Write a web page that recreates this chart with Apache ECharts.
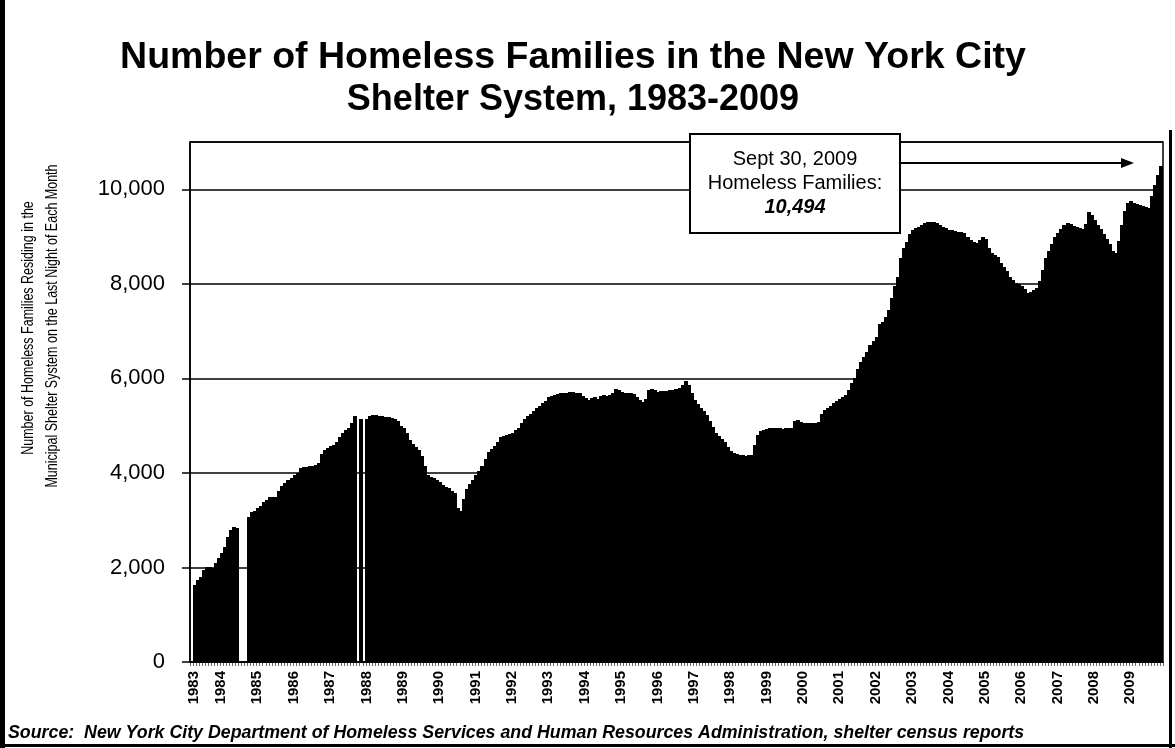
<!DOCTYPE html>
<html>
<head>
<meta charset="utf-8">
<script src="https://cdn.jsdelivr.net/npm/echarts@6/dist/echarts.min.js"></script>
<style>
  html, body { margin: 0; padding: 0; background: #ffffff; }
  #chart { width: 1175px; height: 748px; }
</style>
</head>
<body>
<div id="chart"></div>
<script>
// Homeless families in the NYC shelter system, last night of each month.
// null = month with no census figure.
const families1983 = [null, 1630, 1730, 1800, 1950, 2010, 2010, 1990, 2090, 2200, 2300, 2430];
const families1984 = [2640, 2790, 2850, 2830, null, null, null, 3070, 3170, 3200, 3250, 3300];
const families1985 = [3380, 3420, 3480, 3490, 3500, 3620, 3720, 3790, 3850, 3900, 3960, 4000];
const families1986 = [4100, 4120, 4130, 4140, 4150, 4170, 4210, 4400, 4480, 4520, 4560, 4600];
const families1987 = [4650, 4750, 4850, 4900, 4950, 5050, 5200, null, 5150, null, 5150, 5200];
const families1988 = [5230, 5220, 5200, 5210, 5190, 5190, 5170, 5150, 5100, 5000, 4950, 4850];
const families1989 = [4700, 4620, 4550, 4480, 4350, 4150, 3960, 3920, 3900, 3860, 3800, 3750];
const families1990 = [3700, 3680, 3620, 3580, 3250, 3200, 3450, 3650, 3760, 3850, 3950, 4050];
const families1991 = [4150, 4300, 4450, 4500, 4560, 4650, 4750, 4780, 4800, 4820, 4850, 4900];
const families1992 = [4950, 5050, 5150, 5200, 5250, 5300, 5380, 5420, 5480, 5530, 5600, 5620];
const families1993 = [5640, 5660, 5680, 5690, 5700, 5720, 5710, 5700, 5680, 5620, 5580, 5550];
const families1994 = [5580, 5600, 5570, 5620, 5640, 5620, 5650, 5700, 5780, 5760, 5720, 5700];
const families1995 = [5700, 5690, 5660, 5600, 5540, 5510, 5560, 5750, 5770, 5760, 5720, 5730];
const families1996 = [5730, 5740, 5750, 5760, 5780, 5800, 5850, 5950, 5850, 5700, 5550, 5450];
const families1997 = [5380, 5300, 5230, 5100, 4980, 4850, 4780, 4720, 4650, 4540, 4470, 4420];
const families1998 = [4400, 4370, 4380, 4360, 4380, 4370, 4600, 4800, 4880, 4900, 4920, 4960];
const families1999 = [4960, 4940, 4950, 4930, 4940, 4950, 4950, 5100, 5120, 5080, 5050, 5060];
const families2000 = [5050, 5060, 5050, 5080, 5250, 5330, 5380, 5420, 5480, 5520, 5560, 5600];
const families2001 = [5650, 5750, 5900, 6000, 6200, 6350, 6450, 6550, 6700, 6800, 6880, 7150];
const families2002 = [7200, 7290, 7450, 7700, 7950, 8150, 8550, 8750, 8880, 9050, 9130, 9180];
const families2003 = [9200, 9240, 9280, 9300, 9310, 9300, 9290, 9250, 9200, 9180, 9140, 9130];
const families2004 = [9120, 9100, 9090, 9080, 9000, 8920, 8880, 8860, 8920, 8980, 8950, 8750];
const families2005 = [8650, 8600, 8560, 8450, 8350, 8280, 8150, 8080, 8020, 8000, 7950, 7900];
const families2006 = [7800, 7820, 7870, 7920, 8050, 8300, 8550, 8700, 8850, 9000, 9080, 9150];
const families2007 = [9250, 9280, 9260, 9230, 9200, 9180, 9150, 9260, 9520, 9450, 9350, 9250];
const families2008 = [9150, 9050, 8950, 8850, 8700, 8650, 8900, 9250, 9550, 9720, 9750, 9700];
const families2009 = [9680, 9660, 9640, 9620, 9600, 9850, 10100, 10300, 10494];

const yearTickLabels = ['1983', '1984', '1985', '1986', '1987', '1988', '1989', '1990', '1991',
  '1992', '1993', '1994', '1995', '1996', '1997', '1998', '1999', '2000', '2001', '2002',
  '2003', '2004', '2005', '2006', '2007', '2008', '2009'];

const valueTicks = [0, 2000, 4000, 6000, 8000, 10000];

const titleLines = ['Number of Homeless Families in the New York City', 'Shelter System, 1983-2009'];
const axisNameLines = ['Number of Homeless Families Residing in the',
  'Municipal Shelter System on the Last Night of Each Month'];
const sourceNote = 'Source:  New York City Department of Homeless Services and Human Resources Administration, shelter census reports';

const byYear = [families1983, families1984, families1985, families1986, families1987, families1988,
  families1989, families1990, families1991, families1992, families1993, families1994, families1995,
  families1996, families1997, families1998, families1999, families2000, families2001, families2002,
  families2003, families2004, families2005, families2006, families2007, families2008, families2009];

const months = [];
const families = [];
byYear.forEach((vals, yi) => {
  vals.forEach((v, mi) => {
    months.push(yearTickLabels[yi] + '-' + String(mi + 1).padStart(2, '0'));
    families.push(v);
  });
});

const lastValue = families[families.length - 1];
const fmt = v => v.toLocaleString('en-US');

const chart = echarts.init(document.getElementById('chart'), null, { renderer: 'canvas' });

const ARIAL = '"Liberation Sans", Arial, sans-serif';

// One solid column per month, snapped to whole pixels so neighbours join seamlessly.
function renderMonthColumn(params, api) {
  const v = api.value(1);
  if (v == null || isNaN(v)) return null;
  const top = api.coord([api.value(0), v]);
  const base = api.coord([api.value(0), 0]);
  const w = api.size([1, 0])[0];
  const x0 = Math.floor(top[0] - w / 2);
  const x1 = Math.ceil(top[0] + w / 2);
  const y0 = Math.round(top[1]);
  const y1 = Math.round(base[1]);
  return {
    type: 'rect',
    shape: { x: x0, y: y0, width: x1 - x0, height: y1 - y0 },
    style: { fill: '#000', stroke: null }
  };
}

chart.setOption({
  animation: false,
  backgroundColor: '#ffffff',
  grid: {
    left: 190, right: 12, top: 142, bottom: 86,
    show: true, borderColor: '#000', borderWidth: 1.5, backgroundColor: 'transparent'
  },
  xAxis: {
    type: 'category',
    data: months,
    boundaryGap: true,
    axisLine: { show: true, lineStyle: { color: '#000', width: 1.5 } },
    axisTick: { show: true, interval: 0, length: 4, lineStyle: { color: '#000', width: 0.6 } },
    axisLabel: {
      interval: (idx) => idx % 12 === 0,
      formatter: (val, idx) => idx === 0 ? '{first|' + val.slice(0, 4) + '}' : '{yr|' + val.slice(0, 4) + '}',
      rotate: 90,
      margin: 9,
      color: '#000',
      rich: {
        first: { fontFamily: ARIAL, fontWeight: 'bold', fontSize: 15, color: '#000', padding: [4, 0, 0, 0] },
        yr: { fontFamily: ARIAL, fontWeight: 'bold', fontSize: 15, color: '#000', padding: [0, 0, 14, 0] }
      }
    },
    splitLine: { show: false }
  },
  yAxis: {
    type: 'value',
    min: 0,
    max: 11000,
    interval: 2000,
    axisLine: { show: true, lineStyle: { color: '#000', width: 1.5 } },
    axisTick: { show: true, length: 8, lineStyle: { color: '#000', width: 1.5 } },
    axisLabel: {
      showMaxLabel: false,
      margin: 25,
      color: '#000',
      fontFamily: ARIAL,
      fontSize: 22,
      formatter: v => valueTicks.includes(v) ? fmt(v) : ''
    },
    splitLine: { show: true, lineStyle: { color: '#000', width: 1.5 } }
  },
  series: [{
    type: 'custom',
    renderItem: renderMonthColumn,
    encode: { x: 0, y: 1 },
    data: families.map((v, i) => [i, v]),
    clip: true
  }],
  graphic: [
    // outer frame
    { type: 'line', z: 100, shape: { x1: 2.5, y1: 0, x2: 2.5, y2: 748 }, style: { stroke: '#000', lineWidth: 5 } },
    { type: 'line', z: 100, shape: { x1: 0, y1: 745.5, x2: 1175, y2: 745.5 }, style: { stroke: '#000', lineWidth: 3 } },
    { type: 'line', z: 100, shape: { x1: 1170.5, y1: 130, x2: 1170.5, y2: 748 }, style: { stroke: '#000', lineWidth: 3 } },
    // title
    { type: 'text', z: 100, x: 573, y: 58, style: { text: titleLines[0], font: 'bold 37.5px ' + ARIAL, fill: '#000', textAlign: 'center', textVerticalAlign: 'middle' } },
    { type: 'text', z: 100, x: 573, y: 100, style: { text: titleLines[1], font: 'bold 36px ' + ARIAL, fill: '#000', textAlign: 'center', textVerticalAlign: 'middle' } },
    // value axis name
    { type: 'text', z: 100, x: 29, y: 328, rotation: Math.PI / 2, scaleY: 1.25, style: { text: axisNameLines[0], font: '12.5px ' + ARIAL, fill: '#000', textAlign: 'center', textVerticalAlign: 'middle' } },
    { type: 'text', z: 100, x: 53, y: 326, rotation: Math.PI / 2, scaleY: 1.25, style: { text: axisNameLines[1], font: '12.5px ' + ARIAL, fill: '#000', textAlign: 'center', textVerticalAlign: 'middle' } },
    // callout for the latest figure
    { type: 'rect', z: 100, shape: { x: 690, y: 134, width: 210, height: 99 }, style: { fill: '#fff', stroke: '#000', lineWidth: 2 } },
    { type: 'text', z: 101, x: 795, y: 159, style: { text: 'Sept 30, 2009', font: '20px ' + ARIAL, fill: '#000', textAlign: 'center', textVerticalAlign: 'middle' } },
    { type: 'text', z: 101, x: 795, y: 183, style: { text: 'Homeless Families:', font: '20px ' + ARIAL, fill: '#000', textAlign: 'center', textVerticalAlign: 'middle' } },
    { type: 'text', z: 101, x: 795, y: 207, style: { text: fmt(lastValue), font: 'italic bold 20px ' + ARIAL, fill: '#000', textAlign: 'center', textVerticalAlign: 'middle' } },
    { type: 'line', z: 100, shape: { x1: 901, y1: 163, x2: 1124, y2: 163 }, style: { stroke: '#000', lineWidth: 2 } },
    { type: 'polygon', z: 100, shape: { points: [[1121, 158], [1134, 163], [1121, 168]] }, style: { fill: '#000' } },
    // source line
    { type: 'text', z: 100, x: 8, y: 733, style: { text: sourceNote, font: 'italic bold 17.8px ' + ARIAL, fill: '#000', textAlign: 'left', textVerticalAlign: 'middle' } }
  ]
});
</script>
</body>
</html>
